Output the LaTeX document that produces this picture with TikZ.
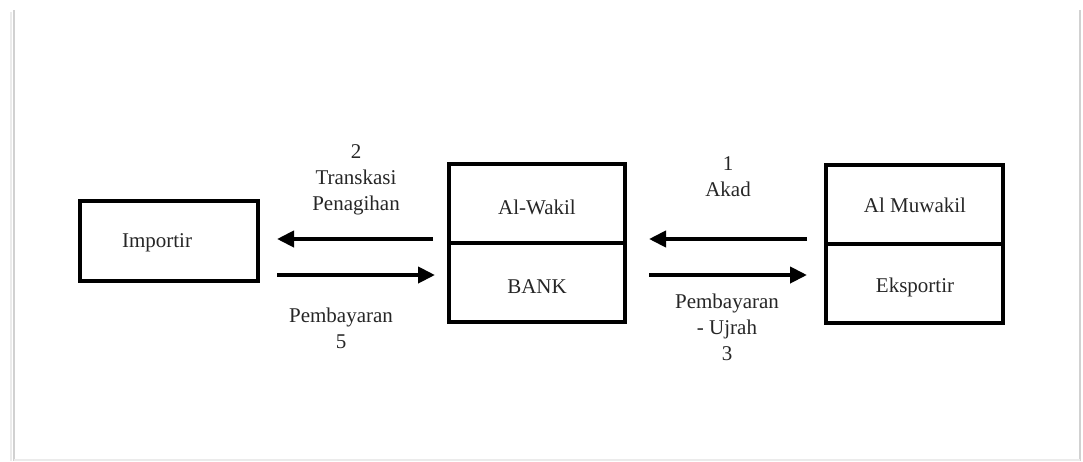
\documentclass[tikz,border=0pt]{standalone}
\usepackage{fontspec}
\setmainfont{Liberation Serif}
\usetikzlibrary{arrows.meta}
\begin{document}
\begin{tikzpicture}[x=1pt,y=-1pt,
  every node/.style={font=\fontsize{21}{26}\selectfont, text=black!85},
  box/.style={draw=black, line width=4pt, minimum width=177pt, minimum height=79pt, inner sep=0pt},
  lbl/.style={align=center, inner sep=0pt},
  arr/.style={line width=4pt, -{Triangle[length=17pt,width=16pt]}},
  shadowline/.style={draw=black!18, line width=2pt}]
\useasboundingbox (0,0) rectangle (1083,461);
% page shadow
\draw[shadowline] (14,10) -- (14,461);
\draw[draw=black!8, line width=2pt] (11,12) -- (11,461);
\draw[shadowline] (1080,10) -- (1080,461);
\draw[draw=black!8, line width=1.5pt] (14,460) -- (1080,460);
% boxes
\node[box, minimum width=178pt, minimum height=80pt] (imp) at (169,241) {};
\node[lbl] (impt) at (157,243) {Importir};
\node[box, minimum width=176pt] (wakil) at (537,203.5) {};
\node[box, minimum width=176pt] (bank) at (537,282.5) {};
\node[lbl] (wakilt) at (537,207) {Al-Wakil};
\node[lbl] (bankt) at (537,287) {BANK};
\node[box] (muw) at (914.5,204.5) {};
\node[box] (eks) at (914.5,283.5) {};
\node[lbl] (muwt) at (915,205) {Al Muwakil};
\node[lbl] (ekst) at (915,287) {Eksportir};
% levels
\coordinate (ya) at (0,239);
\coordinate (yb) at (0,275);
% arrows
\draw[arr, shorten <=14pt, shorten >=17pt] (wakil.west |- ya) -- (imp.east |- ya);
\draw[arr, shorten <=17pt, shorten >=12pt] (imp.east |- yb) -- (bank.west |- yb);
\draw[arr, shorten <=17pt, shorten >=22pt] (muw.west |- ya) -- (wakil.east |- ya);
\draw[arr, shorten <=22pt, shorten >=17pt] (bank.east |- yb) -- (eks.west |- yb);
% labels
\node[lbl] (l2) at (356,180) {2\\Transkasi\\Penagihan};
\node[lbl] (l5) at (341,328) {Pembayaran\\5};
\node[lbl] (l1) at (728,177) {1\\Akad};
\node[lbl] (l3) at (727,327) {Pembayaran\\- Ujrah\\3};
\end{tikzpicture}
\end{document}
